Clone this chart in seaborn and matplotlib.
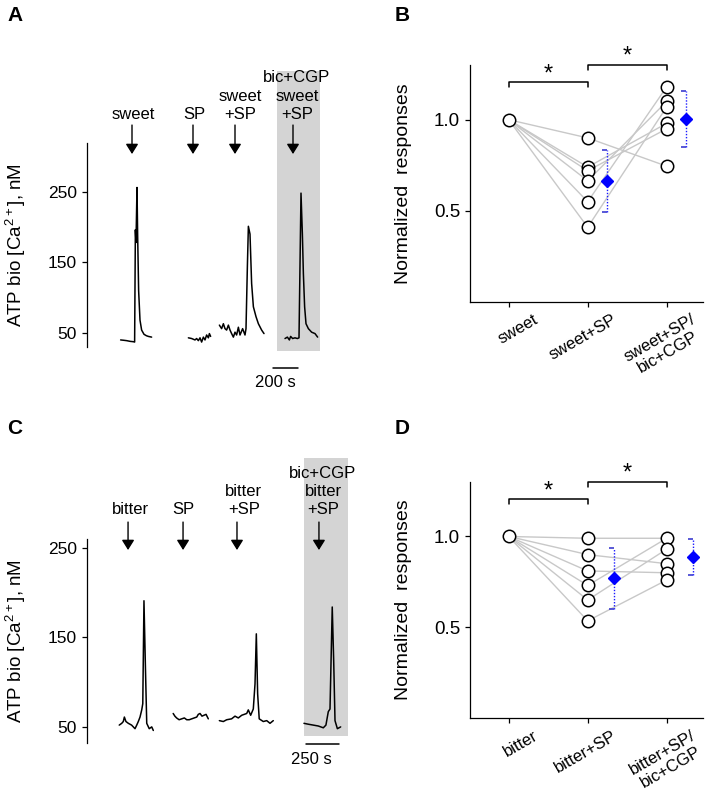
import numpy as np
import pandas as pd
import matplotlib
matplotlib.use("Agg")
import matplotlib.pyplot as plt
import seaborn as sns
from matplotlib.patches import Rectangle
from matplotlib.transforms import blended_transform_factory, ScaledTranslation

# ---------------- data ----------------
# Panel A: ATP-biosensor [Ca2+] traces (time in s, value in nM)
a_sweet_t = [269, 295, 317, 345, 371, 381, 387, 392, 400, 405, 413, 424, 437, 456, 475, 491, 517]
a_sweet_v = [40, 39.5, 39, 38, 37.5, 37, 196, 178, 256, 190, 110, 68, 54, 48, 46, 45, 44]
a_sp_t = [811, 837, 864, 877, 891, 904, 917, 931, 944, 957, 971, 979, 989]
a_sp_v = [43, 42, 40, 42, 39, 43, 37, 44, 40, 47, 43, 49, 45]
a_sweetsp_t = [1059, 1077, 1091, 1104, 1117, 1131, 1144, 1157, 1171, 1184, 1197, 1211, 1224,
               1245, 1264, 1272, 1283, 1291, 1304, 1317, 1331, 1352, 1371, 1397, 1416]
a_sweetsp_v = [61, 56, 63, 56, 54, 61, 54, 49, 44, 51, 47, 58, 47,
               56, 47, 56, 144, 201, 190, 120, 87, 73, 63, 54, 49]
a_bic_t = [1584, 1603, 1619, 1629, 1645, 1664, 1683, 1696, 1712, 1723, 1731, 1741, 1752, 1771, 1797, 1824, 1845]
a_bic_v = [42, 44, 40, 45, 42, 43, 42, 43, 248, 190, 134, 87, 63, 56, 51, 49, 44]
a_labels = ["sweet", "SP", "sweet\n+SP", "bic+CGP\nsweet\n+SP"]
a_label_t = [368, 856, 1224, 1680]
a_arrow_t = [360, 848, 1184, 1648]
a_shade = [1520, 1864]
a_scalebar = [1488, 1688]
a_scalebar_label = "200 s"
a_yticks = [50, 150, 250]

# Panel C
c_bitter_t = [245, 264, 276, 284, 296, 314, 339, 365, 378, 390, 403, 416, 424, 433, 444, 454, 473, 492, 504]
c_bitter_v = [52, 54, 56, 61, 56, 54, 52, 48, 52, 56, 61, 69, 76, 191, 117, 54, 48, 50, 46]
c_sp_t = [655, 668, 681, 700, 720, 740, 758, 777, 796, 815, 834, 846, 859, 874, 889, 905, 922]
c_sp_v = [65, 62, 60, 58, 59, 60, 58, 58, 59, 60, 61, 64, 65, 62, 63, 64, 59]
c_bittersp_t = [1006, 1036, 1062, 1099, 1125, 1150, 1176, 1214, 1226, 1244, 1264, 1277, 1287, 1297, 1309, 1340, 1366, 1391, 1416]
c_bittersp_v = [57, 56, 58, 59, 62, 60, 63, 65, 69, 63, 70, 98, 154, 87, 59, 56, 57, 54, 57]
c_bic_t = [1649, 1682, 1720, 1758, 1796, 1816, 1834, 1847, 1854, 1864, 1875, 1885, 1903, 1928]
c_bic_v = [54, 53, 52, 51, 49, 52, 67, 70, 117, 184, 124, 57, 48, 50]
c_labels = ["bitter", "SP", "bitter\n+SP", "bic+CGP\nbitter\n+SP"]
c_label_t = [327, 730, 1193, 1794]
c_arrow_t = [312, 730, 1140, 1763]
c_shade = [1649, 1984]
c_scalebar = [1664, 1914]
c_scalebar_label = "250 s"
c_yticks = [50, 150, 250]

# Panel B: normalized responses (paired, 6 cells)
b_categories = ["sweet", "sweet+SP", "sweet+SP/\nbic+CGP"]
b_sweet = [1.0, 1.0, 1.0, 1.0, 1.0, 1.0]
b_sweet_sp = [0.90, 0.74, 0.72, 0.665, 0.55, 0.41]
b_sweet_sp_bic = [0.745, 0.98, 0.95, 1.10, 1.18, 1.07]

# Panel D
d_categories = ["bitter", "bitter+SP", "bitter+SP/\nbic+CGP"]
d_bitter = [1.0, 1.0, 1.0, 1.0, 1.0, 1.0]
d_bitter_sp = [0.99, 0.90, 0.81, 0.73, 0.65, 0.535]
d_bitter_sp_bic = [0.99, 0.85, 0.80, 0.99, 0.93, 0.76]

norm_yticks = [0.5, 1.0]
sig_brackets = [(0, 1, 1.205), (1, 2, 1.30)]

# ---------------- style ----------------
sns.set_theme(style="ticks")
plt.rcParams['font.family'] = ['Liberation Sans', 'DejaVu Sans']
plt.rcParams['mathtext.fontset'] = 'custom'
plt.rcParams['mathtext.rm'] = 'Liberation Sans'
plt.rcParams['axes.linewidth'] = 0.9
plt.rcParams['xtick.major.width'] = 0.9
plt.rcParams['ytick.major.width'] = 0.9
plt.rcParams['xtick.major.size'] = 3.6
plt.rcParams['ytick.major.size'] = 3.6
plt.rcParams['axes.edgecolor'] = 'black'
plt.rcParams['xtick.color'] = 'black'
plt.rcParams['ytick.color'] = 'black'
plt.rcParams['xtick.labelcolor'] = 'black'
plt.rcParams['ytick.labelcolor'] = 'black'
plt.rcParams['text.color'] = 'black'
plt.rcParams['axes.labelcolor'] = 'black'

W, H = 709, 796
fig = plt.figure(figsize=(W / 100, H / 100), dpi=100)


def px_axes(left, top, right, bottom):
    return fig.add_axes([left / W, 1 - bottom / H, (right - left) / W, (bottom - top) / H])


def trace_panel(ax, traces, ylim, xlim, yticks, labels, label_t, arrow_t, shade, shade_y,
                scalebar, scalebar_label, bar_y, bar_label_y, text_y, arrow_y):
    rows = []
    for i, (t, v) in enumerate(traces):
        rows += [(i, tt, vv) for tt, vv in zip(t, v)]
    df = pd.DataFrame(rows, columns=['trace', 't', 'v'])
    tr = blended_transform_factory(ax.transData, ax.transAxes)
    ax.add_patch(Rectangle((shade[0], shade_y[0]), shade[1] - shade[0], shade_y[1] - shade_y[0],
                           transform=tr, facecolor='#d4d4d4', edgecolor='none',
                           clip_on=False, zorder=0))
    sns.lineplot(data=df, x='t', y='v', units='trace', estimator=None, sort=False,
                 color='black', lw=1.1, ax=ax, legend=False, zorder=3)
    ax.set_xlim(xlim)
    ax.set_ylim(ylim)
    ax.set_facecolor('none')
    for s in ['top', 'right', 'bottom']:
        ax.spines[s].set_visible(False)
    ax.set_xticks([])
    ax.set_xlabel('')
    ax.set_yticks(yticks)
    ax.set_yticklabels([str(y) for y in yticks], fontsize=12.5, color='black')
    ax.set_ylabel('ATP bio [Ca$^{\\mathregular{2+}}$], nM', fontsize=13.5, color='black')
    ax.yaxis.set_label_coords(-0.226, 0.5)
    for lab, t in zip(labels, label_t):
        ax.text(t, text_y, lab, transform=tr, ha='center', va='baseline', fontsize=12,
                linespacing=1.27, zorder=4, color='black')
    for t in arrow_t:
        ax.annotate('', xy=(t, arrow_y[1]), xytext=(t, arrow_y[0]), xycoords=tr, textcoords=tr,
                    annotation_clip=False,
                    arrowprops=dict(arrowstyle='-|>,head_length=0.4,head_width=0.25',
                                    color='black', lw=1.0, mutation_scale=15,
                                    shrinkA=0, shrinkB=0))
    ax.plot(scalebar, [bar_y, bar_y], transform=tr, color='black', lw=1.1, clip_on=False)
    ax.text(np.mean(scalebar) - 80, bar_label_y, scalebar_label, transform=tr, ha='center',
            va='center', fontsize=12, color='black')


def pair_panel(ax, cats, vals, mean_dx):
    n = len(vals[0])
    rows = [(s, c, vals[c][s]) for c in range(len(vals)) for s in range(n)]
    df = pd.DataFrame(rows, columns=['subject', 'cond', 'value'])
    sns.lineplot(data=df, x='cond', y='value', units='subject', estimator=None,
                 color='#c8c8c8', lw=1.0, ax=ax, legend=False, zorder=1)
    pts = df.drop_duplicates(subset=['cond', 'value'])
    sns.scatterplot(data=pts, x='cond', y='value', s=80, color='white', edgecolor='black',
                    linewidth=1.1, ax=ax, zorder=3, legend=False, clip_on=False)
    for c in range(1, len(vals)):
        m = np.mean(vals[c])
        sd = np.std(vals[c], ddof=1)
        x = c + mean_dx
        ax.vlines(x, m - sd, m + sd, colors='#1a1aff', linestyles=(0, (1, 1.2)), lw=1.0, zorder=2)
        ax.hlines([m - sd, m + sd], x - 0.065, x, colors='#3c3cd0', lw=1.2, zorder=2)
        ax.plot([x], [m], marker='D', color='#0000ff', ms=6.5, mec='#0000ff', zorder=4)
    for x0, x1, y in sig_brackets:
        ax.plot([x0, x0, x1, x1], [y - 0.028, y, y, y - 0.028], color='black', lw=1.1,
                clip_on=False)
        ax.text((x0 + x1) / 2, y + 0.012, '*', ha='center', va='baseline', fontsize=17,
                clip_on=False, color='black')
    ax.set_xlim(-0.49, 2.46)
    ax.set_ylim(0, 1.3)
    for s in ['top', 'right']:
        ax.spines[s].set_visible(False)
    ax.set_yticks(norm_yticks)
    ax.set_yticklabels([f'{y:.1f}' for y in norm_yticks], fontsize=13.5, color='black')
    ax.set_xticks(range(len(cats)))
    ax.set_xticklabels(cats, rotation=30, ha='right', va='top', rotation_mode='anchor',
                       multialignment='center', fontsize=12, linespacing=1.1, color='black')
    off = ScaledTranslation(0.24, 0.0, fig.dpi_scale_trans)
    for lab in ax.get_xticklabels():
        lab.set_transform(lab.get_transform() + off)
    ax.set_xlabel('')
    ax.set_ylabel('Normalized  responses', fontsize=14, color='black')
    ax.yaxis.set_label_coords(-0.249, 0.5)


axA = px_axes(87, 143, 350, 347)
trace_panel(axA, [(a_sweet_t, a_sweet_v), (a_sp_t, a_sp_v), (a_sweetsp_t, a_sweetsp_v),
                  (a_bic_t, a_bic_v)],
            (30, 319), (0, 2104), a_yticks, a_labels, a_label_t, a_arrow_t, a_shade,
            (-0.020, 1.353), a_scalebar, a_scalebar_label, -0.101, -0.176, 1.118, (1.088, 0.946))

axC = px_axes(87, 539, 350, 743)
trace_panel(axC, [(c_bitter_t, c_bitter_v), (c_sp_t, c_sp_v), (c_bittersp_t, c_bittersp_v),
                  (c_bic_t, c_bic_v)],
            (32, 260), (0, 1999), c_yticks, c_labels, c_label_t, c_arrow_t, c_shade,
            (0.034, 1.397), c_scalebar, c_scalebar_label, -0.005, -0.083, 1.121, (1.083, 0.946))

axB = px_axes(470, 65, 703, 302)
pair_panel(axB, b_categories, [b_sweet, b_sweet_sp, b_sweet_sp_bic], 0.25)

axD = px_axes(470, 482, 703, 718)
pair_panel(axD, d_categories, [d_bitter, d_bitter_sp, d_bitter_sp_bic], 0.33)

for lab, x, y in [('A', 7, 6), ('B', 395, 6), ('C', 7, 419), ('D', 395, 419)]:
    fig.text(x / W, 1 - y / H, lab, ha='left', va='top', fontsize=15, fontweight='bold',
             color='black')

fig.savefig('out.png', dpi=100)
